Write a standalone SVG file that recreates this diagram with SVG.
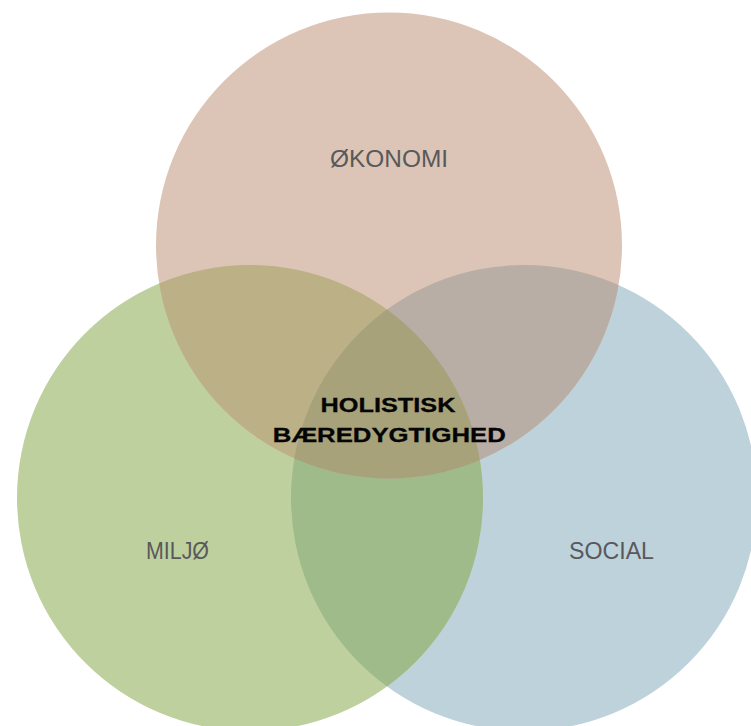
<svg xmlns="http://www.w3.org/2000/svg" width="751" height="726" viewBox="0 0 751 726">
<style>
.lbl{font-family:"Liberation Sans",Arial,sans-serif;font-size:23px;fill:#58595b;text-anchor:middle}
.ctr{font-family:"Liberation Sans",Arial,sans-serif;font-size:21px;font-weight:bold;fill:#050505;text-anchor:middle;stroke:#050505;stroke-width:0.3}
</style>
<defs>
<clipPath id="cT"><circle cx="389" cy="245.5" r="233"/></clipPath>
<clipPath id="cG"><circle cx="250" cy="498" r="233"/></clipPath>
<clipPath id="cB"><circle cx="524" cy="498" r="233"/></clipPath>
</defs>
<rect width="751" height="726" fill="#ffffff"/>
<g id="social">
<circle cx="524" cy="498" r="233" fill="#bed2dc"/>
</g>
<g id="miljo">
<circle cx="250" cy="498" r="233" fill="#bfd09f"/>
</g>
<g id="okonomi">
<circle cx="389" cy="245.5" r="233" fill="#dcc5b6"/>
</g>
<g id="overlaps">
<circle cx="250" cy="498" r="233" fill="#9fbb8a" clip-path="url(#cB)"/>
<circle cx="389" cy="245.5" r="233" fill="#bbb086" clip-path="url(#cG)"/>
<circle cx="389" cy="245.5" r="233" fill="#b8aea5" clip-path="url(#cB)"/>
<g clip-path="url(#cG)"><circle cx="389" cy="245.5" r="233" fill="#a7a27a" clip-path="url(#cB)"/></g>
</g>
<g id="labels">
<text class="lbl" x="389" y="166.5" textLength="118" lengthAdjust="spacingAndGlyphs">ØKONOMI</text>
<text class="lbl" x="177.5" y="559" textLength="63" lengthAdjust="spacingAndGlyphs">MILJØ</text>
<text class="lbl" x="611.5" y="559" textLength="85" lengthAdjust="spacingAndGlyphs">SOCIAL</text>
</g>
<g id="center">
<text class="ctr" x="388" y="412" textLength="135" lengthAdjust="spacingAndGlyphs">HOLISTISK</text>
<text class="ctr" x="389.3" y="441.5" textLength="233" lengthAdjust="spacingAndGlyphs">BÆREDYGTIGHED</text>
</g>
</svg>
